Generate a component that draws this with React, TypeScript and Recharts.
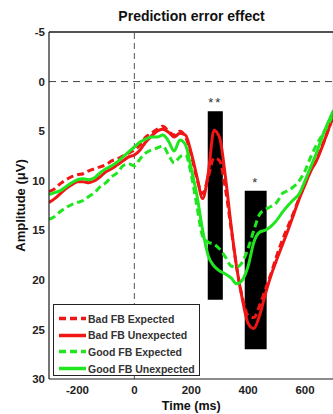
import React from "react";
import {
  LineChart,
  Line,
  XAxis,
  YAxis,
  ReferenceLine,
  ReferenceArea,
  Label,
} from "recharts";

// time samples (ms)
const times = [
  -300, -280, -260, -240, -220, -200, -180, -160, -140, -120, -100, -80, -60, -40, -20,
  0, 20, 40, 60, 80, 100, 120, 140, 160, 180, 200, 220, 240, 260, 280, 300,
  320, 340, 360, 380, 400, 420, 440, 460, 480, 500, 520, 540, 560, 580, 600,
  620, 640, 660, 680, 700,
];

// amplitudes (µV)
const badExpected = [
  11.1, 10.8, 10.3, 9.9, 9.6, 9.4, 9.3, 9.0, 8.8, 8.6, 8.4, 8.0, 7.8, 7.5, 7.2,
  6.9, 6.4, 5.6, 5.2, 4.8, 4.5, 5.0, 5.4, 5.0, 5.6, 7.4, 9.8, 11.3, 9.6, 7.7, 8.0,
  10.8, 14.8, 18.8, 21.8, 23.6, 23.8, 22.6, 21.0, 19.4, 17.6, 16.0, 14.6, 13.2, 11.7, 10.3,
  9.0, 7.9, 6.5, 5.0, 3.4,
];
const badUnexpected = [
  12.2, 11.8, 11.3, 10.8, 10.4, 10.1, 10.1, 10.2, 10.0, 9.6, 9.1, 8.8, 8.4, 8.0, 7.6,
  7.4, 6.9, 6.1, 5.5, 5.0, 4.8, 5.1, 5.6, 5.2, 5.4, 7.2, 9.6, 11.8, 9.2, 4.9, 5.7,
  9.6, 14.5, 18.8, 22.0, 24.4, 24.9, 23.6, 21.5, 19.6, 18.0, 16.5, 15.0, 13.4, 11.8, 10.4,
  9.0, 8.0, 6.6, 5.0, 3.4,
];
const goodExpected = [
  13.9, 13.6, 13.1, 12.7, 12.4, 12.2, 12.0, 11.6, 11.2, 10.6, 10.2, 9.6, 9.2, 8.5, 8.3,
  8.5, 7.8, 7.2, 6.9, 6.7, 6.5, 7.4, 8.2, 7.6, 7.4, 9.4, 12.6, 15.6, 16.2, 16.4, 16.9,
  17.7, 18.6, 18.7, 18.2, 16.8, 15.0, 13.4, 12.9, 12.6, 12.2, 11.3, 11.0, 10.6, 10.0, 9.0,
  7.6, 6.4, 5.4, 4.4, 3.2,
];
const goodUnexpected = [
  11.4, 11.2, 11.0, 10.6, 10.2, 9.9, 9.8, 9.9, 9.7, 9.2, 8.8, 8.5, 8.1, 7.6, 7.1,
  6.6, 6.1, 5.8, 5.6, 5.6, 5.4, 6.0, 7.0, 5.9, 6.4, 8.8, 11.5, 15.0, 17.6, 18.6, 19.1,
  19.4, 19.8, 20.4, 20.0, 18.6, 16.2, 15.2, 15.0, 14.6, 14.0, 13.2, 12.5, 11.9, 11.3, 10.0,
  8.6, 7.2, 5.6, 4.2, 2.9,
];

const xTicks = [-200, 0, 200, 400, 600];
const yTicks = [-5, 0, 5, 10, 15, 20, 25, 30];
const xDomain = [-300, 700];
const yDomain = [-5, 30];

// significance windows: [start ms, end ms, top µV, bottom µV, stars]
const sigWindows: [number, number, number, number, string][] = [
  [258, 311, 3, 22, "**"],
  [388, 465, 11, 27, "*"],
];

const RED = "#f01616";
const GREEN = "#1fe61f";
const AXIS = "#1a1a1a";
const FONT = '"Liberation Sans", Arial, sans-serif';

const series = [
  { key: "badExp", name: "Bad FB Expected", color: RED, dash: "7 4" },
  { key: "badUnexp", name: "Bad FB Unexpected", color: RED, dash: undefined },
  { key: "goodExp", name: "Good FB Expected", color: GREEN, dash: "7 4" },
  { key: "goodUnexp", name: "Good FB Unexpected", color: GREEN, dash: undefined },
];

const data = times.map((t, i) => ({
  t,
  badExp: badExpected[i],
  badUnexp: badUnexpected[i],
  goodExp: goodExpected[i],
  goodUnexp: goodUnexpected[i],
}));

const tickStyle = { fontSize: 11.5, fontWeight: "bold", fill: "#222", fontFamily: FONT };

export default function App() {
  return (
    <div style={{ position: "absolute", left: 0, top: 0, width: 333, height: 414, overflow: "hidden", background: "#fff", fontFamily: FONT }}>
      <div
        style={{
          position: "absolute",
          left: 49,
          width: 285,
          top: 8,
          textAlign: "center",
          fontSize: 14,
          fontWeight: "bold",
          color: "#111",
        }}
      >
        Prediction error effect
      </div>

      <LineChart width={340} height={414} data={data} margin={{ top: 32, right: 6.5, bottom: 0, left: 0 }}>
        <XAxis
          xAxisId="x"
          dataKey="t"
          type="number"
          domain={xDomain}
          ticks={xTicks}
          allowDataOverflow
          height={35}
          tickLine={false}
          tickSize={0}
          tickMargin={7}
          tick={tickStyle}
          axisLine={{ stroke: AXIS, strokeWidth: 1.2 }}
        >
          <Label value="Time (ms)" position="insideBottom" offset={4} style={{ fontSize: 12.5, fontWeight: "bold", fill: "#111", fontFamily: FONT }} />
        </XAxis>
        {/* mirrored copies: inward tick marks and the top/right sides of the box */}
        <XAxis xAxisId="xb" type="number" domain={xDomain} ticks={xTicks} mirror height={1} tick={false} tickSize={4} axisLine={false} tickLine={{ stroke: AXIS }} />
        <XAxis xAxisId="xt" orientation="top" type="number" domain={xDomain} ticks={xTicks} mirror height={1} tick={false} tickSize={4} axisLine={{ stroke: AXIS, strokeWidth: 1.2 }} tickLine={{ stroke: AXIS }} />
        <YAxis
          yAxisId="y"
          type="number"
          domain={yDomain}
          ticks={yTicks}
          reversed
          allowDataOverflow
          width={49}
          tickLine={false}
          tickSize={0}
          tickMargin={4}
          tick={tickStyle}
          axisLine={{ stroke: AXIS, strokeWidth: 1.2 }}
        >
          <Label value="Amplitude (μV)" angle={-90} position="center" dx={-4} style={{ fontSize: 13, fontWeight: "bold", fill: "#111", fontFamily: FONT }} />
        </YAxis>
        <YAxis yAxisId="yl" type="number" domain={yDomain} ticks={yTicks} reversed mirror width={1} tick={false} tickSize={4} axisLine={false} tickLine={{ stroke: AXIS }} />
        <YAxis yAxisId="yr" orientation="right" type="number" domain={yDomain} ticks={yTicks} reversed mirror width={1} tick={false} tickSize={4} axisLine={{ stroke: AXIS, strokeWidth: 1.2 }} tickLine={{ stroke: AXIS }} />

        {/* top edge of the axes box */}
        <ReferenceLine xAxisId="x" yAxisId="y" y={yDomain[0]} stroke={AXIS} strokeWidth={1.2} ifOverflow="visible" />

        <ReferenceLine xAxisId="x" yAxisId="y" y={0} stroke="#444" strokeWidth={1} strokeDasharray="7 5" />
        <ReferenceLine xAxisId="x" yAxisId="y" x={0} stroke="#555" strokeWidth={1} strokeDasharray="6 4" />

        {sigWindows.map(([x1, x2, y1, y2, stars], i) => (
          <ReferenceArea
            key={i}
            xAxisId="x"
            yAxisId="y"
            x1={x1}
            x2={x2}
            y1={y1}
            y2={y2}
            fill="#000"
            fillOpacity={1}
            stroke="none"
            label={{ value: stars, position: "top", offset: 4, fill: "#333", fontSize: 13, letterSpacing: 2, fontFamily: FONT }}
          />
        ))}

        {series.map((s) => (
          <Line
            key={s.key}
            xAxisId="x"
            yAxisId="y"
            type="monotone"
            dataKey={s.key}
            name={s.name}
            stroke={s.color}
            strokeWidth={3}
            strokeDasharray={s.dash}
            dot={false}
            activeDot={false}
            isAnimationActive={false}
          />
        ))}
      </LineChart>

      {/* legend box, bottom-left like the original */}
      <div
        style={{
          position: "absolute",
          left: 53,
          top: 304,
          width: 147,
          height: 72,
          border: "1px solid #222",
          boxSizing: "border-box",
          background: "#fff",
        }}
      >
        {series.map((s, i) => (
          <div key={s.key} style={{ position: "absolute", left: 0, top: 5 + i * 16.7, height: 17, display: "flex", alignItems: "center" }}>
            <svg width={34} height={17} style={{ display: "block" }}>
              <line x1={5} x2={32} y1={8.5} y2={8.5} stroke={s.color} strokeWidth={3.5} strokeDasharray={s.dash ? "7 4" : undefined} />
            </svg>
            <span style={{ fontSize: 10.5, fontWeight: "bold", color: "#333", whiteSpace: "nowrap" }}>{s.name}</span>
          </div>
        ))}
      </div>
    </div>
  );
}
